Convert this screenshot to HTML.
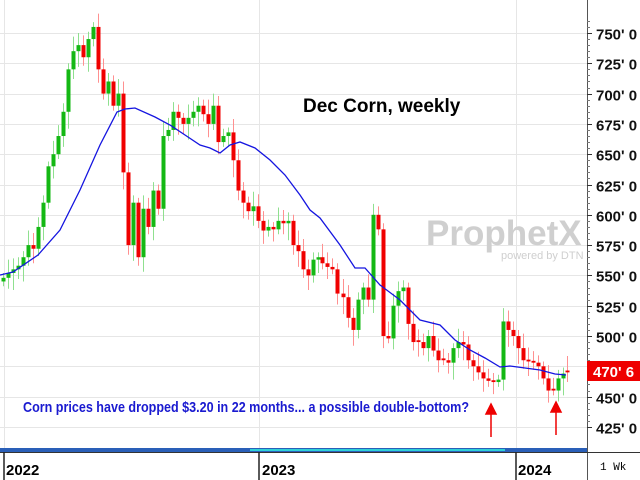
<!DOCTYPE html>
<html><head><style>
body{margin:0;background:#fff;}
svg{display:block;font-family:"Liberation Sans",Arial,sans-serif;}
</style></head><body>
<svg id="s" width="640" height="480" xmlns="http://www.w3.org/2000/svg">
<rect width="640" height="480" fill="#fff"/>
<g id="grid" stroke="#e6e6e6" stroke-width="1"></g>
<line x1="4.5" y1="0" x2="4.5" y2="450" stroke="#e6e6e6"/>
<line x1="259.5" y1="0" x2="259.5" y2="450" stroke="#e6e6e6"/>
<line x1="516.5" y1="0" x2="516.5" y2="450" stroke="#e6e6e6"/>
<text x="426" y="245" font-size="35" font-weight="bold" fill="#cfcfcf">ProphetX</text>
<text x="501" y="259" font-size="11" fill="#cfcfcf">powered by DTN</text>
<g id="candles"></g>
<polyline fill="none" stroke="#1515e0" stroke-width="1.3" points="0,275 13,272 38,255 60,230 80,190 100,145 117,112 125,109 135,108 155,117 170,125 185,135 200,145 210,148 220,153 230,145 240,142 255,148 270,160 285,175 300,195 310,210 320,218 340,245 355,268 365,268 380,285 400,300 420,320 440,325 455,340 470,350 485,358 500,367 510,366 525,368 540,370 555,374 566,375"/>
<text x="303" y="112" font-size="19" font-weight="bold" fill="#000">Dec Corn, weekly</text>
<text x="23" y="412" font-size="15" font-weight="bold" fill="#1a1ad0" textLength="446" lengthAdjust="spacingAndGlyphs">Corn prices have dropped $3.20 in 22 months... a possible double-bottom?</text>
<g stroke="#e00" stroke-width="1.5" fill="#e00">
<line x1="491" y1="437" x2="491" y2="412"/><polygon points="486,414 496,414 491,404"/>
<line x1="556" y1="435" x2="556" y2="410"/><polygon points="551,412 561,412 556,402"/>
</g>
<rect x="587" y="0" width="53" height="450" fill="#fff"/>
<line x1="587.5" y1="0" x2="587.5" y2="480" stroke="#555"/>
<g id="axis" font-size="15" font-weight="bold" fill="#111"></g>
<rect x="587" y="361" width="53" height="20" fill="#e00"/>
<text x="593" y="377" font-size="15" font-weight="bold" fill="#fff">470' 6</text>
<rect x="0" y="448" width="587" height="4" fill="#2a5fb8"/>
<rect x="250" y="449" width="255" height="2" fill="#2ed0d8"/>
<line x1="0" y1="452.5" x2="640" y2="452.5" stroke="#333"/>
<line x1="4" y1="452" x2="4" y2="480" stroke="#222" stroke-width="1.5"/>
<line x1="259" y1="452" x2="259" y2="480" stroke="#222" stroke-width="1.5"/>
<line x1="516" y1="452" x2="516" y2="480" stroke="#222" stroke-width="1.5"/>
<text x="6" y="475" font-size="15" font-weight="bold">2022</text>
<text x="262" y="475" font-size="15" font-weight="bold">2023</text>
<text x="518" y="475" font-size="15" font-weight="bold">2024</text>
<text x="600" y="470" font-size="11" font-family="Liberation Mono,monospace">1 Wk</text>
</svg>
<script>
var Y=function(p){return 33+(750-p)*1.212;};
var ns="http://www.w3.org/2000/svg";
function el(t,a,parent){var e=document.createElementNS(ns,t);for(var k in a)e.setAttribute(k,a[k]);parent.appendChild(e);return e;}
var g=document.getElementById('grid'),ax=document.getElementById('axis');
for(var p=425;p<=750;p+=25){var y=Math.round(Y(p))+0.5;el('line',{x1:0,y1:y,x2:587,y2:y},g);
el('line',{x1:587,y1:y,x2:592,y2:y,stroke:'#333'},ax);
var t=el('text',{x:596,y:y+6},ax);t.textContent=p+"' 0";}
for(var p=430;p<=760;p+=5){if(p%25){var y=Math.round(Y(p))+0.5;el('line',{x1:587,y1:y,x2:590,y2:y,stroke:'#777'},ax);}}
var c1=[548,552,555,558,565,575,572,590,610,640,650,665,685,720,735,740,730,745,755,720,700,710,690,700,635,575,610,565,605,590,620,605,665,670,685,680,675,680,685,690,683,675,690,660,665,668,645,620,610,603,607,595,587,590,588,595,593,595,575,570,555,550,563,565];
var pts=[];for(var i=0;i<c1.length;i++)pts.push([3+i*5,c1[i]]);
var c2=[[322,560],[327,557],[332,555],[337,535],[343,532],[348,515],[353,505],[358,530],[363,540],[368,530],[373,600],[378,588],[383,500],[388,498],[393,525],[398,537],[403,540],[408,510],[413,495],[418,495],[423,490],[428,500],[433,488],[438,480],[443,480],[448,478],[453,490],[458,495],[463,493],[468,480],[473,475],[478,470],[483,465],[488,463],[493,462],[498,464],[503,512],[508,505],[513,500],[518,490],[523,480],[528,479],[533,478],[538,475],[543,465],[548,455],[553,455],[558,465],[563,469],[567,470]];
pts=pts.concat(c2);
var cg=document.getElementById('candles');var prev=545;
for(i=0;i<pts.length;i++){var x=pts[i][0],c=pts[i][1],o=prev;if(Math.abs(c-o)<1.5)o=c+1.5;
var up=c>=o;var hi=Math.max(o,c)+4+((i*7)%9),lo=Math.min(o,c)-4-((i*5)%11);
el('line',{x1:x+0.5,y1:Y(hi),x2:x+0.5,y2:Y(lo),stroke:up?'#8fe08f':'#ff9090'},cg);
var y1=Y(Math.max(o,c)),y2=Y(Math.min(o,c));
el('rect',{x:x-1.5,y:y1,width:4,height:Math.max(1.5,y2-y1),fill:up?'#14b814':'#f00000'},cg);prev=c;}
</script>
</body></html>
